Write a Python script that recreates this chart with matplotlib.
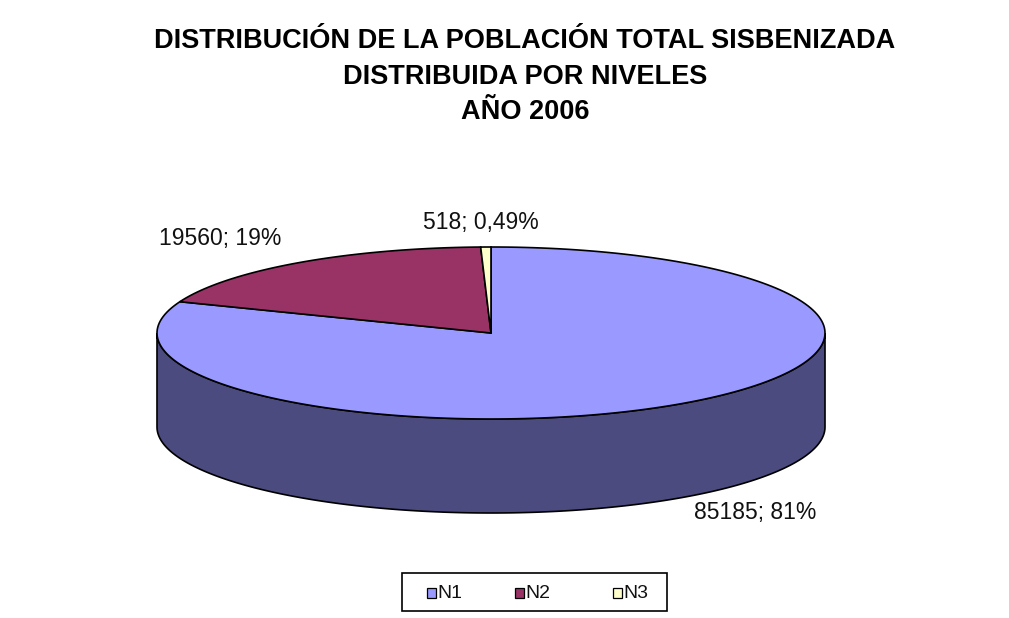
import numpy as np
import matplotlib.pyplot as plt
from matplotlib.patches import Polygon, Rectangle

# data
niveles = ['N1', 'N2', 'N3']
poblacion = [85185, 19560, 518]
etiquetas = ['85185; 81%', '19560; 19%', '518; 0,49%']
titulo = ['DISTRIBUCIÓN DE LA POBLACIÓN TOTAL SISBENIZADA',
          'DISTRIBUIDA POR NIVELES',
          'AÑO 2006']
top_colors = ['#9999FF', '#993366', '#FFFFCC']
side_colors = ['#4B4B7F', '#4D1A33', '#808066']

# layout (pixels)
W, H = 1009, 618
cx, cy = 491, 333
rx, ry = 334, 86
depth = 94
label_xy = [(755, 513), (220, 238), (481, 222)]
title_y = [41, 77, 112]

plt.rcParams['font.family'] = ['Liberation Sans', 'DejaVu Sans']

fig = plt.figure(figsize=(W / 100, H / 100), dpi=100)
ax = fig.add_axes([0, 0, 1, 1])
ax.set_xlim(0, W)
ax.set_ylim(H, 0)
ax.axis('off')


def ellipse_pts(a0, a1, dy=0, n=200):
    t = np.radians(np.linspace(a0, a1, n))
    return np.column_stack([cx + rx * np.cos(t), cy - ry * np.sin(t) + dy])


total = sum(poblacion)
# slices go clockwise from 12 o'clock
angles = [90]
for v in poblacion:
    angles.append(angles[-1] - v / total * 360)

# side walls (front half: 180..360 degrees)
for i in range(len(poblacion)):
    a_start, a_end = angles[i + 1], angles[i]
    for off in (0, 360, -360):
        lo = max(a_start + off, 180)
        hi = min(a_end + off, 360)
        if hi > lo:
            top = ellipse_pts(lo, hi)
            bot = ellipse_pts(hi, lo, dy=depth)
            ax.add_patch(Polygon(np.vstack([top, bot]), closed=True,
                                 facecolor=side_colors[i], edgecolor='black', lw=1.2))

# top faces
for i in range(len(poblacion)):
    arc = ellipse_pts(angles[i + 1], angles[i])
    pts = np.vstack([[cx, cy], arc])
    ax.add_patch(Polygon(pts, closed=True, facecolor=top_colors[i],
                         edgecolor='black', lw=1.2))

for (x, y), txt in zip(label_xy, etiquetas):
    ax.text(x, y, txt, ha='center', va='center', fontsize=16.5, color='#111111')

for y, line in zip(title_y, titulo):
    ax.text(525, y, line, ha='center', va='center', fontsize=19.5,
            fontweight='bold', color='black')

# legend box
ax.add_patch(Rectangle((402, 573), 265, 38, facecolor='white', edgecolor='black', lw=1.2))
leg_x = [427, 515, 613]
for x, lab, col in zip(leg_x, niveles, top_colors):
    ax.add_patch(Rectangle((x, 588), 9, 10, facecolor=col, edgecolor='black', lw=0.9))
    ax.text(x + 10, 593, lab, ha='left', va='center', fontsize=14, color='#111111')

fig.savefig('out.png', dpi=100)
